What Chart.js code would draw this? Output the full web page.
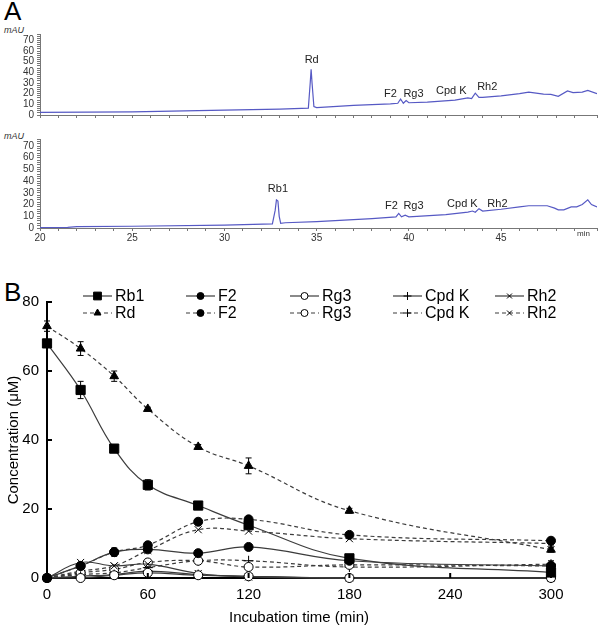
<!DOCTYPE html>
<html>
<head>
<meta charset="utf-8">
<script src="https://cdn.jsdelivr.net/npm/chart.js@4.4.1/dist/chart.umd.min.js"></script>
<style>
body { margin: 0; background: #fff; font-family: Arial, "Liberation Sans", sans-serif; }
#wrap { position: relative; width: 600px; height: 631px; overflow: hidden; }
.box { position: absolute; left: 0; width: 600px; }
.txt { position: absolute; color: #000; white-space: nowrap; }
</style>
</head>
<body>
<div id="wrap">
  <div class="txt" style="left:4px;top:-4px;font-size:26px;">A</div>
  <div class="txt" style="left:4px;top:25px;font-size:9px;color:#333;font-style:italic;">mAU</div>
  <div class="box" style="top:25px;height:100px;"><canvas id="chromTop"></canvas></div>
  <div class="txt" style="left:4px;top:131px;font-size:9px;color:#333;font-style:italic;">mAU</div>
  <div class="box" style="top:130px;height:115px;"><canvas id="chromBottom"></canvas></div>
  <div class="txt" style="left:577px;top:229px;font-size:8px;color:#333;">min</div>
  <div class="txt" style="left:4px;top:277px;font-size:26px;">B</div>
  <div class="box" style="top:285px;height:346px;"><canvas id="kinetics"></canvas></div>
</div>
<script>
// ---- A: HPLC traces (retention time in min, signal in mAU) ----
const topTime   = [20, 25, 30, 33, 34.55, 34.65, 34.7, 34.75, 34.85, 35, 37, 39, 39.4, 39.55, 39.7, 39.85, 40, 41, 42.5, 43.2, 43.4, 43.6, 43.8, 44, 45, 46, 46.5, 47.3, 47.7, 48.1, 48.6, 48.9, 49.4, 49.7, 50.2];
const topSignal = [2.5, 3, 4.5, 5.5, 6.5, 30, 43, 30, 8, 7, 9, 10.5, 11, 15, 11, 13.5, 11.5, 12, 14, 16, 15.5, 20.5, 16.5, 16.5, 18, 20, 21.5, 19.5, 19.3, 17.5, 22.5, 21, 21.5, 23, 20];
const botTime   = [20, 21.5, 22, 25, 30, 32.6, 32.75, 32.82, 32.9, 32.97, 33.05, 33.3, 35, 38, 39.3, 39.45, 39.6, 39.8, 40, 42, 43.2, 43.45, 43.6, 43.8, 44, 45, 46, 46.5, 47.5, 47.9, 48.1, 48.4, 48.8, 49.1, 49.4, 49.7, 49.9, 50.2];
const botSignal = [0.3, 0.6, 1.2, 1.5, 2.5, 3.5, 15, 24, 23, 10, 4, 4.5, 5.5, 8, 9.5, 12.5, 9.5, 11, 9.5, 11.5, 13.5, 14.5, 13.5, 16.5, 14.5, 16, 18, 19, 19, 17, 15.5, 15.5, 18, 18, 20, 24, 20, 18];

const topPeakNames  = ['Rd', 'F2', 'Rg3', 'Cpd K', 'Rh2'];
const topPeakTime   = [34.73, 39.0, 40.25, 42.3, 44.25];
const topPeakHeight = [52, 19.6, 19.6, 22.4, 26];
const botPeakNames  = ['Rb1', 'F2', 'Rg3', 'Cpd K', 'Rh2'];
const botPeakTime   = [32.9, 39.05, 40.25, 42.9, 44.8];
const botPeakHeight = [33.7, 18.5, 18.5, 20.2, 20.2];

// ---- B: concentration (µM) vs incubation time (min) ----
const times      = [0, 20, 40, 60, 90, 120, 180, 300];
const rb1        = [68, 54.5, 37.5, 27, 21, 15.3, 5.7, 1.6];
const f2Solid    = [0, 3.5, 7.5, 8.3, 7.2, 9, 5, 3.5];
const rg3Solid   = [0, 0, 0.8, 1.5, 0.8, 0.5, 0, 0];
const cpdKSolid  = [0, 0.5, 1, 2, 1, 0.5, 0, 0];
const rh2Solid   = [0, 4.5, 3.5, 4, 1.3, 0.3, 0, 0];
const rd         = [73, 66.5, 58.5, 49, 38, 32.5, 19.5, 8.2];
const f2Dashed   = [0, 3.5, 7.5, 9.5, 16.3, 17, 12.5, 10.8];
const rg3Dashed  = [0, 1.5, 2.5, 4.5, 5, 3.2, 3.8, 3.5];
const cpdKDashed = [0, 1, 1.5, 3, 5, 5, 3.2, 4];
const rh2Dashed  = [0, 2, 3.5, 8, 14, 13.6, 11.4, 10];
const rb1Err     = [0.5, 2.5, 0.5, 1.5, 0.5, 0.5, 0.5, 0.5];
const rdErr      = [1.5, 2, 1.5, 0.5, 0.7, 2.3, 0.7, 0.7];
const f2DashErr  = [0, 0.5, 1.2, 0.5, 0.5, 0.5, 0.5, 0.5];
const cpdKErr    = [0, 0, 0, 0, 0, 0, 0, 1];
const xTicksB    = [0, 60, 120, 180, 240, 300];
const yTicksB    = [0, 20, 40, 60, 80];

Chart.defaults.font.family = 'Arial, "Liberation Sans", sans-serif';

// peak names over the chromatograms
const peakLabels = {
  id: 'peakLabels',
  afterDatasetsDraw(chart, args, opts) {
    const { ctx, scales: { x, y } } = chart;
    ctx.save();
    ctx.font = '11px Arial, "Liberation Sans", sans-serif';
    ctx.fillStyle = '#222';
    ctx.textAlign = 'center';
    ctx.textBaseline = 'middle';
    opts.names.forEach((n, i) => {
      ctx.fillText(n, x.getPixelForValue(opts.times[i]), y.getPixelForValue(opts.heights[i]));
    });
    ctx.restore();
  }
};

function chromatogram(id, xs, ys, names, ptimes, pheights, showLabels) {
  return new Chart(document.getElementById(id), {
    type: 'line',
    data: {
      datasets: [{
        data: xs.map((t, i) => ({ x: t, y: ys[i] })),
        borderColor: '#5659c4',
        borderWidth: 1.2,
        pointRadius: 0,
        tension: 0
      }]
    },
    options: {
      responsive: true,
      maintainAspectRatio: false,
      animation: false,
      layout: { padding: { top: 8, right: 3, left: 0, bottom: 0 } },
      plugins: {
        legend: { display: false },
        tooltip: { enabled: false },
        peakLabels: { names: names, times: ptimes, heights: pheights }
      },
      scales: {
        x: {
          type: 'linear', min: 20, max: 50.2,
          afterFit: s => { s.height = showLabels ? 17 : 10; },
          border: { color: '#777' },
          grid: { drawOnChartArea: false, tickLength: 3, tickColor: '#777' },
          ticks: {
            stepSize: 1, autoSkip: false, maxRotation: 0, padding: 1,
            display: showLabels, font: { size: 10 }, color: '#333',
            callback: v => (v % 5 === 0 && v < 50) ? v : ''
          }
        },
        y: {
          min: 0, max: 76,
          afterFit: s => { s.width = 40; },
          border: { color: '#777' },
          grid: { drawOnChartArea: false, tickLength: 3, tickColor: '#777' },
          ticks: {
            stepSize: 2, autoSkip: false, padding: 3, font: { size: 10 }, color: '#333',
            callback: v => v % 10 === 0 ? v : ''
          }
        }
      }
    },
    plugins: [peakLabels]
  });
}

chromatogram('chromTop', topTime, topSignal, topPeakNames, topPeakTime, topPeakHeight, false);
chromatogram('chromBottom', botTime, botSignal, botPeakNames, botPeakTime, botPeakHeight, true);

// ---- B chart ----
function series(label, values, style, fill, dashed, radius, legendRadius, errors) {
  return {
    label: label,
    data: times.map((t, i) => ({ x: t, y: values[i] })),
    borderColor: '#3c3c3c',
    borderWidth: 1.2,
    borderDash: dashed ? [4, 3] : [],
    tension: 0.4,
    pointStyle: style,
    pointRadius: radius,
    pointBackgroundColor: fill,
    pointBorderColor: '#000',
    pointBorderWidth: 1,
    legendRadius: legendRadius,
    errors: errors,
    clip: false
  };
}

const datasetsB = [
  series('Rb1', rb1, 'rect', '#000', false, 6.5, 5.5, rb1Err),
  series('F2', f2Solid, 'circle', '#000', false, 4.5, 3.5, null),
  series('Rg3', rg3Solid, 'circle', '#fff', false, 4.5, 3.5, null),
  series('Cpd K', cpdKSolid, 'cross', '#000', false, 5, 4, null),
  series('Rh2', rh2Solid, 'crossRot', '#000', false, 5, 3.5, null),
  series('Rd', rd, 'triangle', '#000', true, 5, 4, rdErr),
  series('F2', f2Dashed, 'circle', '#000', true, 4.5, 3.5, f2DashErr),
  series('Rg3', rg3Dashed, 'circle', '#fff', true, 4.5, 3.5, null),
  series('Cpd K', cpdKDashed, 'cross', '#000', true, 5, 4, cpdKErr),
  series('Rh2', rh2Dashed, 'crossRot', '#000', true, 5, 3.5, null)
];

const errorBars = {
  id: 'errorBars',
  afterDatasetsDraw(chart) {
    const { ctx, scales: { y } } = chart;
    chart.data.datasets.forEach((ds, i) => {
      if (!ds.errors) return;
      const meta = chart.getDatasetMeta(i);
      ctx.save();
      ctx.strokeStyle = '#000';
      ctx.lineWidth = 1;
      meta.data.forEach((pt, j) => {
        const e = ds.errors[j];
        if (!e) return;
        const v = ds.data[j].y;
        const yt = y.getPixelForValue(v + e), yb = y.getPixelForValue(v - e);
        ctx.beginPath();
        ctx.moveTo(pt.x, yt); ctx.lineTo(pt.x, yb);
        ctx.moveTo(pt.x - 3, yt); ctx.lineTo(pt.x + 3, yt);
        ctx.moveTo(pt.x - 3, yb); ctx.lineTo(pt.x + 3, yb);
        ctx.stroke();
      });
      ctx.restore();
    });
  }
};

// inward tick marks + two-row legend
const axisDecor = {
  id: 'axisDecor',
  afterDraw(chart) {
    const { ctx, chartArea, scales: { x, y } } = chart;
    ctx.save();
    ctx.strokeStyle = '#000';
    ctx.lineWidth = 2;
    ctx.beginPath();
    xTicksB.forEach(t => { const px = x.getPixelForValue(t); ctx.moveTo(px, chartArea.bottom); ctx.lineTo(px, chartArea.bottom - 5); });
    yTicksB.forEach(v => { const py = y.getPixelForValue(v); ctx.moveTo(chartArea.left, py); ctx.lineTo(chartArea.left + 5, py); });
    ctx.stroke();

    const colX = [83, 186, 290, 393, 495];
    const rowY = [11, 28];
    chart.data.datasets.forEach((ds, i) => {
      const x0 = colX[i % 5], yy = rowY[Math.floor(i / 5)];
      ctx.strokeStyle = ds.borderColor;
      ctx.lineWidth = ds.borderWidth;
      ctx.setLineDash(ds.borderDash);
      ctx.beginPath(); ctx.moveTo(x0, yy); ctx.lineTo(x0 + 29, yy); ctx.stroke();
      ctx.setLineDash([]);
      ctx.fillStyle = ds.pointBackgroundColor;
      ctx.strokeStyle = '#000';
      ctx.lineWidth = 1;
      Chart.helpers.drawPoint(ctx, { pointStyle: ds.pointStyle, radius: ds.legendRadius, rotation: 0, borderWidth: 1 }, x0 + 14.5, yy);
      ctx.fillStyle = '#000';
      ctx.font = '16px Arial, "Liberation Sans", sans-serif';
      ctx.textBaseline = 'middle';
      ctx.textAlign = 'left';
      ctx.fillText(ds.label, x0 + 32, yy + 1);
    });
    ctx.restore();
  }
};

new Chart(document.getElementById('kinetics'), {
  type: 'line',
  data: { datasets: datasetsB },
  options: {
    responsive: true,
    maintainAspectRatio: false,
    animation: false,
    layout: { padding: { top: 12, right: 49, left: 0, bottom: 0 } },
    plugins: { legend: { display: false }, tooltip: { enabled: false } },
    scales: {
      x: {
        type: 'linear', min: 0, max: 300,
        afterFit: s => { s.height = 53; },
        border: { color: '#000', width: 2 },
        grid: { display: false, drawTicks: false },
        ticks: { stepSize: 60, padding: 8, font: { size: 15 }, color: '#000', maxRotation: 0 },
        title: { display: true, text: 'Incubation time (min)', font: { size: 15 }, color: '#000', padding: { top: 4, bottom: 4 } }
      },
      y: {
        min: 0, max: 80,
        afterFit: s => { s.width = 47; },
        border: { color: '#000', width: 2 },
        grid: { display: false, drawTicks: false },
        ticks: { stepSize: 20, padding: 8, font: { size: 15 }, color: '#000' },
        title: { display: true, text: 'Concentration (μM)', font: { size: 15 }, color: '#000', padding: { top: 5, bottom: 5 } }
      }
    }
  },
  plugins: [errorBars, axisDecor]
});
</script>
</body>
</html>
